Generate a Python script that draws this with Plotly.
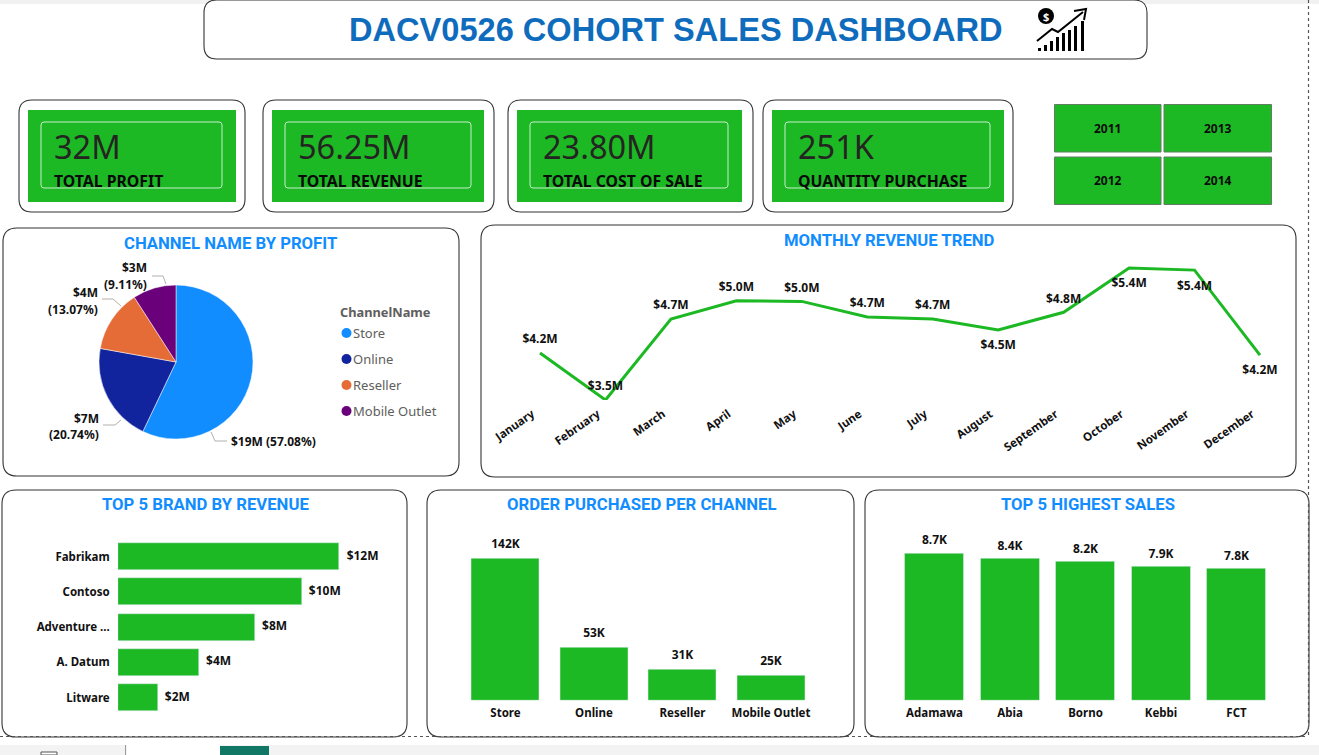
import plotly.graph_objects as go

W, H = 1319, 755
GREEN = "#1DB924"
TITLE_BLUE = "#118DFF"
INK = "#111111"
UI = "Noto Sans"
HEAD = "Roboto"

months = ["January", "February", "March", "April", "May", "June", "July", "August",
          "September", "October", "November", "December"]
monthly_revenue = [4.19, 3.50, 4.69, 4.96, 4.95, 4.72, 4.69, 4.53, 4.79, 5.44, 5.41, 4.16]
monthly_labels = ["$4.2M", "$3.5M", "$4.7M", "$5.0M", "$5.0M", "$4.7M", "$4.7M", "$4.5M",
                  "$4.8M", "$5.4M", "$5.4M", "$4.2M"]
monthly_positions = ["top center"] * 7 + ["bottom center", "top center",
                                          "bottom center", "bottom center", "bottom center"]

channels = ["Store", "Online", "Reseller", "Mobile Outlet"]
channel_share = [57.08, 20.74, 13.07, 9.11]
channel_colors = ["#118DFF", "#12239E", "#E66C37", "#6B007B"]

brands = ["Fabrikam", "Contoso", "Adventure ...", "A. Datum", "Litware"]
brand_revenue = [12.3, 10.2, 7.6, 4.49, 2.2]
brand_labels = ["$12M", "$10M", "$8M", "$4M", "$2M"]

channel_orders = [142, 53, 31, 25]
order_labels = ["142K", "53K", "31K", "25K"]

states = ["Adamawa", "Abia", "Borno", "Kebbi", "FCT"]
state_sales = [8.7, 8.4, 8.2, 7.9, 7.8]
state_labels = ["8.7K", "8.4K", "8.2K", "7.9K", "7.8K"]

kpi_values = ["32M", "56.25M", "23.80M", "251K"]
kpi_names = ["TOTAL PROFIT", "TOTAL REVENUE", "TOTAL COST OF SALE", "QUANTITY PURCHASE"]
years = ["2011", "2013", "2012", "2014"]


def px(x):
    return x / W


def py(y):
    return 1 - y / H


def dom_x(a, b):
    return [px(a), px(b)]


def dom_y(top, bottom):
    return [py(bottom), py(top)]


shapes, annotations = [], []


def rrect(x0, y0, x1, y1, r=12, line="#333333", fill="white", width=1.1):
    d = (f"M{px(x0+r)},{py(y0)} L{px(x1-r)},{py(y0)} "
         f"Q{px(x1)},{py(y0)} {px(x1)},{py(y0+r)} L{px(x1)},{py(y1-r)} "
         f"Q{px(x1)},{py(y1)} {px(x1-r)},{py(y1)} L{px(x0+r)},{py(y1)} "
         f"Q{px(x0)},{py(y1)} {px(x0)},{py(y1-r)} L{px(x0)},{py(y0+r)} "
         f"Q{px(x0)},{py(y0)} {px(x0+r)},{py(y0)} Z")
    shapes.append(dict(type="path", path=d, xref="paper", yref="paper",
                       line=dict(color=line, width=width), fillcolor=fill, layer="below"))


def rect(x0, y0, x1, y1, fill, line=None, width=0, layer="below"):
    shapes.append(dict(type="rect", xref="paper", yref="paper", x0=px(x0), x1=px(x1),
                       y0=py(y0), y1=py(y1), fillcolor=fill, layer=layer,
                       line=dict(color=line or fill, width=width)))


def seg(points, color="#B3B0AD", width=1, dash=None):
    d = "M" + " L".join(f"{px(a)},{py(b)}" for a, b in points)
    shapes.append(dict(type="path", path=d, xref="paper", yref="paper",
                       line=dict(color=color, width=width, dash=dash), layer="above"))


def text(x, y, s, size=12, color=INK, family=UI, bold=False, anchor="left"):
    annotations.append(dict(x=px(x), y=py(y), xref="paper", yref="paper", text=s,
                            showarrow=False, xanchor=anchor, yanchor="middle",
                            borderpad=0, borderwidth=0,
                            font=dict(size=size, color=color, family=family,
                                      weight=700 if bold else 400)))


# window chrome
rect(0, 0, W, 4, "#F1F1F1")
rect(0, 745, W, H, "#F3F3F3")
rect(127, 745, 220, H, "#FFFFFF")
rect(220, 746, 269, H, "#117865")
rect(41, 752, 57, H, "#FFFFFF", "#555555", 1)
seg([(125.5, 745), (125.5, H)], "#9A9A9A", 1)
seg([(0, 736.5), (1308, 736.5)], "#555555", 1.2, "dot")
seg([(1308.5, 0), (1308.5, 736.5)], "#555555", 1.2, "dot")

# title banner
rrect(204, 0, 1147, 59, 13)
text(675.5, 29, "DACV0526 COHORT SALES DASHBOARD", 32.6, "#0F6CBD", "Liberation Sans", True, "center")

# title icon
for bx, bh in zip([1038, 1044, 1050, 1056, 1062, 1068, 1074, 1081],
                  [3, 6, 10, 14, 18, 21, 25, 30]):
    rect(bx, 51 - bh, bx + 3, 51, "#000000", layer="above")
seg([(1037, 41), (1052, 29), (1058, 32), (1083, 12)], "#000000", 2)
seg([(1074, 11), (1086, 9), (1084, 20)], "#000000", 2)
shapes.append(dict(type="circle", xref="paper", yref="paper", x0=px(1038), x1=px(1054),
                   y0=py(8), y1=py(24), fillcolor="#000000", line=dict(color="#000000", width=0)))
text(1046, 16, "$", 11, "#FFFFFF", UI, True, "center")

# KPI cards
kpi_card_x = [(19, 245), (263, 494), (508, 753), (763, 1013)]
kpi_green_x = [(28, 236), (272, 484), (517, 742), (772, 1004)]
kpi_inner_x = [(41, 222), (285, 471), (530, 728), (785, 990)]
for i in range(4):
    rrect(kpi_card_x[i][0], 100, kpi_card_x[i][1], 212, 13)
    rect(kpi_green_x[i][0], 110, kpi_green_x[i][1], 202, GREEN)
    rrect(kpi_inner_x[i][0], 122, kpi_inner_x[i][1], 188, 3, "#C9EDCB", GREEN, 1)
    text(kpi_inner_x[i][0] + 13, 147, kpi_values[i], 32.5, "#252423")
    text(kpi_inner_x[i][0] + 13, 181, kpi_names[i], 15.8, "#0A0A0A", UI, True)

# year slicer
slicer_boxes = [(1054.5, 104.5, 1161, 152), (1164, 104.5, 1271.5, 152),
                (1054.5, 157, 1161, 204.5), (1164, 157, 1271.5, 204.5)]
for yr, (a, b, c, d) in zip(years, slicer_boxes):
    rect(a, b, c, d, GREEN, "#5F7F60", 1)
    text((a + c) / 2, (b + d) / 2, yr, 12, "#0A0A0A", UI, True, "center")

# panels
rrect(3, 228, 459, 476, 14)
rrect(481, 225, 1296, 477, 14)
rrect(2, 490, 407, 737, 14)
rrect(427, 490, 854, 737, 14)
rrect(865, 490, 1309, 737, 14)
text(231, 243, "CHANNEL NAME BY PROFIT", 16.7, TITLE_BLUE, HEAD, True, "center")
text(889, 240, "MONTHLY REVENUE TREND", 16.7, TITLE_BLUE, HEAD, True, "center")
text(205, 504, "TOP 5 BRAND BY REVENUE", 16.7, TITLE_BLUE, HEAD, True, "center")
text(641, 504, "ORDER PURCHASED PER CHANNEL", 16.7, TITLE_BLUE, HEAD, True, "center")
text(1088, 504, "TOP 5 HIGHEST SALES", 16.7, TITLE_BLUE, HEAD, True, "center")

# pie labels and leaders
seg([(211, 432), (215, 441), (227, 441)])
seg([(121, 420), (115, 425), (103, 425)])
seg([(121, 306), (113, 299), (102, 299)])
seg([(166, 284), (163, 276), (152, 276)])
text(231, 441, "$19M (57.08%)", 12, INK, UI, True)
text(99, 418, "$7M", 12, INK, UI, True, "right")
text(99, 434, "(20.74%)", 12, INK, UI, True, "right")
text(98, 292, "$4M", 12, INK, UI, True, "right")
text(98, 309, "(13.07%)", 12, INK, UI, True, "right")
text(147, 268, "$3M", 12, INK, UI, True, "right")
text(147, 284, "(9.11%)", 12, INK, UI, True, "right")

# pie legend
text(340, 312, "ChannelName", 12.8, "#605E5C", UI, True)
for i, name in enumerate(channels):
    y = 333 + 26 * i
    shapes.append(dict(type="circle", xref="paper", yref="paper", x0=px(341.5), x1=px(351.5),
                       y0=py(y - 5), y1=py(y + 5), fillcolor=channel_colors[i],
                       line=dict(color=channel_colors[i], width=0)))
    text(353, y, name, 13, "#605E5C")

lab = dict(size=12, color=INK, family=UI, weight=700)
tick_font = dict(size=11.5, color=INK, family=UI, weight=700)
clear = "rgba(0,0,0,0)"
no_edge = dict(width=0, color=clear)
fig = go.Figure()

fig.add_trace(go.Pie(labels=channels, values=channel_share, sort=False, direction="clockwise",
                     rotation=0, textinfo="none", showlegend=False,
                     marker=dict(colors=channel_colors, line=dict(color="white", width=0.5)),
                     domain=dict(x=dom_x(99, 253), y=dom_y(285, 439))))

label_gap = [9 if p.startswith("top") else 15 for p in monthly_positions]
fig.add_trace(go.Scatter(x=months, y=monthly_revenue, mode="lines+markers+text", text=monthly_labels,
                         textposition=monthly_positions, textfont=lab, cliponaxis=False,
                         marker=dict(size=label_gap, color=clear, line=no_edge), hoverinfo="skip",
                         line=dict(color=GREEN, width=3), xaxis="x", yaxis="y", showlegend=False))

fig.add_trace(go.Bar(x=brand_revenue, y=brands, orientation="h",
                     marker_color=GREEN, width=0.77, xaxis="x2", yaxis="y2", showlegend=False))
fig.add_trace(go.Scatter(x=brand_revenue, y=brands, mode="markers+text", text=brand_labels,
                         textposition="middle right", textfont=lab, cliponaxis=False,
                         marker=dict(size=10, color=clear, line=no_edge), hoverinfo="skip",
                         xaxis="x2", yaxis="y2", showlegend=False))

fig.add_trace(go.Bar(x=channels, y=channel_orders, marker_color=GREEN, width=0.763,
                     xaxis="x3", yaxis="y3", showlegend=False))
fig.add_trace(go.Scatter(x=channels, y=channel_orders, mode="markers+text", text=order_labels,
                         textposition="top center", textfont=lab, cliponaxis=False,
                         marker=dict(size=10, color=clear, line=no_edge), hoverinfo="skip",
                         xaxis="x3", yaxis="y3", showlegend=False))

fig.add_trace(go.Bar(x=states, y=state_sales, marker_color=GREEN, width=0.775,
                     xaxis="x4", yaxis="y4", showlegend=False))
fig.add_trace(go.Scatter(x=states, y=state_sales, mode="markers+text", text=state_labels,
                         textposition="top center", textfont=lab, cliponaxis=False,
                         marker=dict(size=8, color=clear, line=no_edge), hoverinfo="skip",
                         xaxis="x4", yaxis="y4", showlegend=False))

hidden = dict(showgrid=False, zeroline=False, showline=False, showticklabels=False, ticks="")
tick = dict(showgrid=False, zeroline=False, showline=False, tickfont=tick_font,
            ticks="outside", tickcolor=clear)

fig.update_layout(
    width=W, height=H, margin=dict(l=0, r=0, t=0, b=0, pad=0, autoexpand=False),
    paper_bgcolor="white", plot_bgcolor=clear, shapes=shapes, annotations=annotations,
    bargap=0,
    xaxis=dict(domain=dom_x(507.3, 1292.7), type="category", range=[-0.5, 11.5], tickangle=-35,
               ticklen=2, ticklabelshift=-8, **tick),
    yaxis=dict(domain=dom_y(260, 400), range=[3.5, 3.5 + 140 / 68], anchor="x", **hidden),
    xaxis2=dict(domain=dom_x(118, 342), range=[0, 224 / 18], anchor="y2", **hidden),
    yaxis2=dict(domain=dom_y(539, 715.2), type="category", autorange="reversed", anchor="x2",
                ticklen=5, **tick),
    xaxis3=dict(domain=dom_x(461.25, 815.25), type="category", anchor="y3", ticklen=2, **tick),
    yaxis3=dict(domain=dom_y(540.5, 700.5), range=[0, 160], anchor="x3", **hidden),
    xaxis4=dict(domain=dom_x(896.75, 1274.25), type="category", anchor="y4", ticklen=2, **tick),
    yaxis4=dict(domain=dom_y(531.5, 700.5), range=[0, 10], anchor="x4", **hidden),
)

fig.write_html("out.html", config=dict(displayModeBar=False),
               post_script="document.body.style.margin='0';document.body.style.overflow='hidden';")
